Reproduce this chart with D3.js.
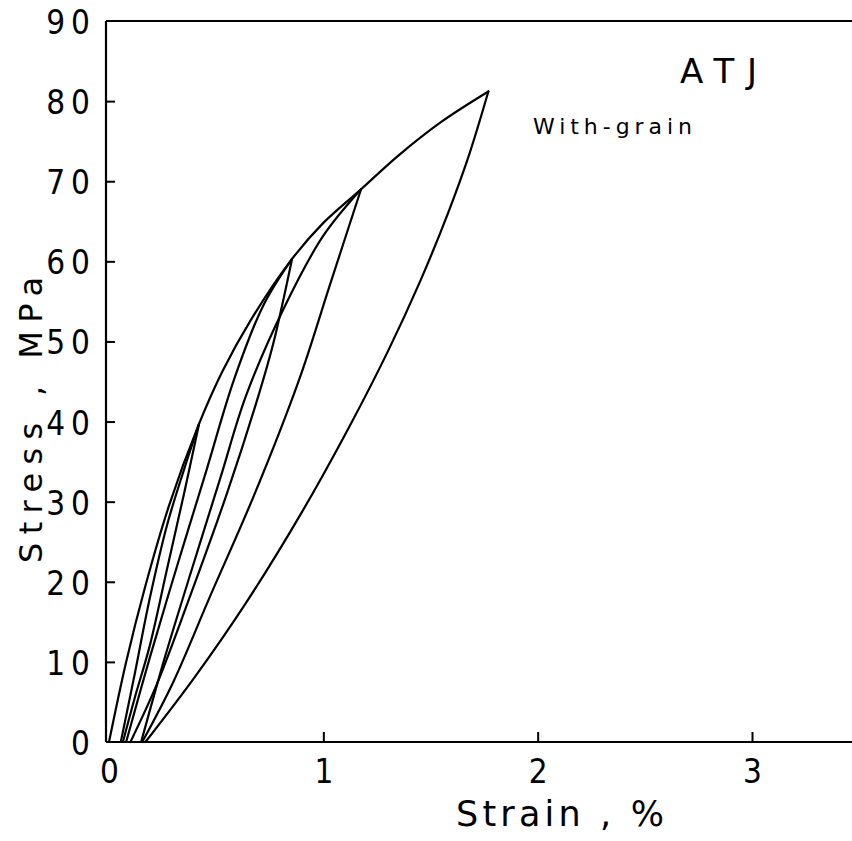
<!DOCTYPE html>
<html>
<head>
<meta charset="utf-8">
<script src="https://cdn.jsdelivr.net/npm/d3@7"></script>
<style>
  html, body { margin: 0; padding: 0; background: #fff; }
  svg { display: block; }
  text { font-family: "DejaVu Sans Condensed", "Liberation Sans Narrow", "DejaVu Sans", sans-serif; fill: #000; }
  .title { font-family: "DejaVu Sans", sans-serif; }
</style>
</head>
<body>
<svg id="chart" width="852" height="841"></svg>
<script>
// Tick values
const strainTicks = [0, 1, 2, 3];
const stressTicks = [0, 10, 20, 30, 40, 50, 60, 70, 80, 90];

// Monotonic loading envelope (strain %, stress MPa)
const envelope = [[0,0],[0.08,10],[0.17,19.5],[0.28,29.5],[0.42,39.7],[0.53,46.3],[0.66,52.6],[0.854,60.3],[1.0,64.8],[1.176,69],[1.35,73.2],[1.55,77.4],[1.77,81.2]];

// Cycle 1: peak 40 MPa
const unload40 = [[0.42,39.7],[0.35,31],[0.27,21.5],[0.19,12],[0.12,5.5],[0.065,0]];
const reload40 = [[0.055,0],[0.12,8.5],[0.19,17.9],[0.27,27],[0.35,34],[0.42,39.7]];

// Cycle 2: peak 60 MPa
const unload60 = [[0.854,60.3],[0.767,49.8],[0.697,43.2],[0.55,31],[0.374,17.9],[0.22,7],[0.10,0]];
const reload60 = [[0.08,0],[0.19,10.5],[0.318,22],[0.45,33.5],[0.584,45.3],[0.72,54.5],[0.854,60.3]];

// Cycle 3: peak 69 MPa
const unload69 = [[1.176,69],[1.03,57],[0.888,45.3],[0.68,31],[0.467,17.9],[0.3,7.5],[0.155,0]];
const reload69 = [[0.15,0],[0.26,10.5],[0.38,21],[0.52,33],[0.639,43.2],[0.813,54],[1.0,63.2],[1.176,69]];

// Final unloading from 81 MPa
const unload81 = [[1.77,81.2],[1.68,73.3],[1.58,65.9],[1.45,57.4],[1.30,48.7],[1.12,39.3],[0.90,28.7],[0.64,17.4],[0.40,8.1],[0.17,0]];

const curves = [envelope, unload40, reload40, unload60, reload60, unload69, reload69, unload81];

const svg = d3.select("#chart");
const x = d3.scaleLinear().domain([0, 3]).range([109, 752]);
const y = d3.scaleLinear().domain([0, 90]).range([742, 21]);
const xAxisEnd = 852;

// Frame: left axis, bottom axis, top border
const frame = svg.append("g").attr("stroke", "#000").attr("stroke-width", 2.2).attr("fill", "none");
frame.append("line").attr("x1", 106).attr("x2", 106).attr("y1", y(90)).attr("y2", y(0));
frame.append("line").attr("x1", 106).attr("x2", xAxisEnd).attr("y1", y(0)).attr("y2", y(0));
frame.append("line").attr("x1", 106).attr("x2", xAxisEnd).attr("y1", y(90)).attr("y2", y(90));

// Y axis: inward ticks
const yAxis = d3.axisLeft(y).tickValues(stressTicks).tickSize(-9).tickPadding(20).tickFormat(d3.format("d"));
const gy = svg.append("g").attr("transform", "translate(106,0)").call(yAxis);
gy.select(".domain").remove();
gy.selectAll(".tick line").attr("stroke", "#000").attr("stroke-width", 2)
  .filter(d => d === 0 || d === 90).remove();
gy.selectAll(".tick text").attr("font-size", 33).attr("letter-spacing", 6).attr("dy", "0.38em").attr("x", -10);

// X axis: inward ticks
const xAxis = d3.axisBottom(x).tickValues(strainTicks).tickSize(-10).tickPadding(18).tickFormat(d3.format("d"));
const gx = svg.append("g").attr("transform", `translate(0,${y(0)})`).call(xAxis);
gx.select(".domain").remove();
gx.selectAll(".tick line").attr("stroke", "#000").attr("stroke-width", 2)
  .filter(d => d === 0).remove();
gx.selectAll(".tick text").attr("font-size", 33).attr("dy", "0.71em");
svg.selectAll(".tick text").attr("font-family", null);

// Stress-strain curves
const line = d3.line().x(d => x(d[0])).y(d => y(d[1])).curve(d3.curveCatmullRom.alpha(0.5));
svg.append("g").selectAll("path").data(curves).join("path")
  .attr("d", line).attr("fill", "none").attr("stroke", "#000")
  .attr("stroke-width", 2.2).attr("stroke-linejoin", "round").attr("stroke-linecap", "round");

// Axis titles
svg.append("text").attr("class", "title").attr("x", 560).attr("y", 826).attr("text-anchor", "middle")
  .attr("font-size", 35).attr("textLength", 208).attr("lengthAdjust", "spacing").text("Strain , %");
svg.append("text").attr("class", "title").attr("transform", "translate(42,420) rotate(-90)").attr("text-anchor", "middle")
  .attr("font-size", 32).attr("textLength", 286).attr("lengthAdjust", "spacing").text("Stress , MPa");

// Annotations
svg.append("text").attr("class", "title").attr("x", 680).attr("y", 83).attr("font-size", 34)
  .attr("textLength", 77).attr("lengthAdjust", "spacing").text("ATJ");
svg.append("text").attr("class", "title").attr("x", 533).attr("y", 134).attr("font-size", 22)
  .attr("textLength", 159).attr("lengthAdjust", "spacing").text("With-grain");
</script>
</body>
</html>
